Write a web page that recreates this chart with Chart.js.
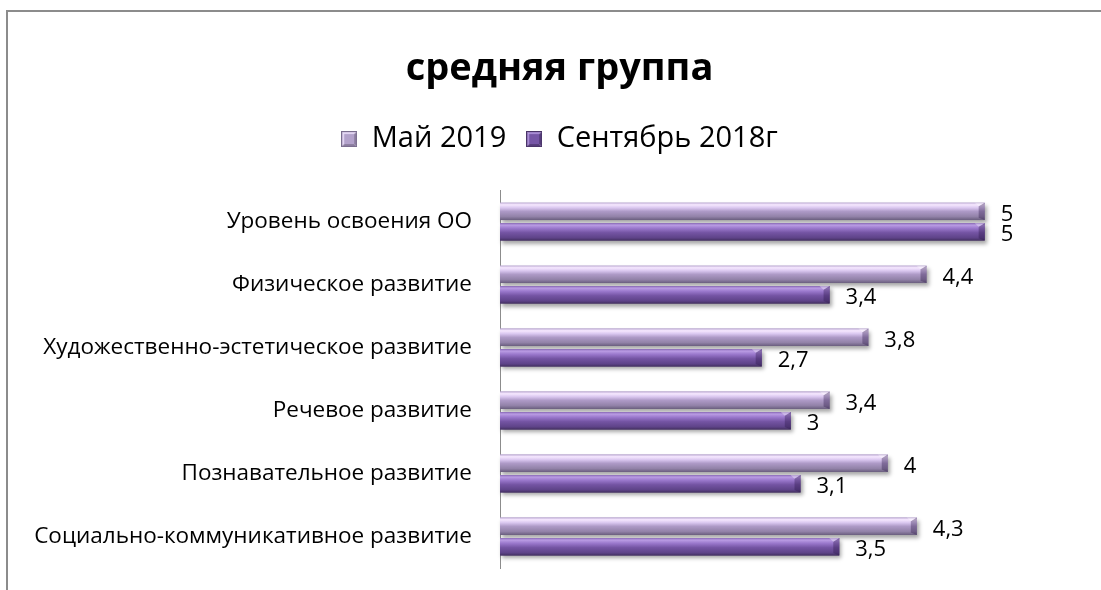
<!DOCTYPE html>
<html lang="ru">
<head>
<meta charset="UTF-8">
<title>средняя группа</title>
<script src="https://cdn.jsdelivr.net/npm/chart.js"></script>
<style>
  body { margin: 0; background: #fff; overflow: hidden; }
  #frame { position: absolute; left: 6px; top: 10px; width: 1200px; height: 700px;
           border-left: 2px solid #8c8c8c; border-top: 2px solid #8c8c8c; }
  #chart { position: absolute; left: 0; top: 0; }
</style>
</head>
<body>
<div id="frame"></div>
<canvas id="chart" width="1101" height="590"></canvas>
<script>
const categories = [
  'Уровень освоения ОО',
  'Физическое развитие',
  'Художественно-эстетическое развитие',
  'Речевое развитие',
  'Познавательное развитие',
  'Социально-коммуникативное развитие'
];
const may2019 = [5, 4.4, 3.8, 3.4, 4, 4.3];
const sep2018 = [5, 3.4, 2.7, 3, 3.1, 3.5];

const FONT = "'Open Sans', 'DejaVu Sans', sans-serif";

const mayStops = [[0, '#c0aed6'], [0.12, '#f6e8ff'], [0.3, '#d9c6ef'], [0.5, '#ae9ac7'], [0.8, '#9282a8'], [1, '#6a5e7e']];
const sepStops = [[0, '#8f6fbd'], [0.12, '#b99be3'], [0.3, '#9a78cc'], [0.55, '#7454a3'], [0.85, '#5e4388'], [1, '#433060']];

// small bevelled square for the legend
function makeBox(light, mid, dark, edge) {
  const c = document.createElement('canvas');
  c.width = 16; c.height = 16;
  const g = c.getContext('2d');
  const tri = (pts, col) => {
    g.fillStyle = col;
    g.beginPath();
    g.moveTo(pts[0], pts[1]);
    for (let k = 2; k < pts.length; k += 2) g.lineTo(pts[k], pts[k + 1]);
    g.closePath();
    g.fill();
  };
  tri([0, 0, 16, 0, 8, 8], light);
  tri([0, 0, 0, 16, 8, 8], light);
  tri([16, 0, 16, 16, 8, 8], dark);
  tri([0, 16, 16, 16, 8, 8], dark);
  g.fillStyle = mid;
  g.fillRect(3, 3, 10, 10);
  g.strokeStyle = edge;
  g.strokeRect(0.5, 0.5, 15, 15);
  return c;
}

// bevelled bars with soft shadow, drawn over the library's bar rects
const bevelBars = {
  id: 'bevelBars',
  afterDatasetsDraw(chart) {
    const ctx = chart.ctx;
    chart.data.datasets.forEach((ds, i) => {
      const meta = chart.getDatasetMeta(i);
      const stops = i === 0 ? mayStops : sepStops;
      meta.data.forEach(el => {
        const p = el.getProps(['x', 'y', 'base', 'height'], true);
        const top = p.y - p.height / 2, bottom = p.y + p.height / 2;
        const left = p.base, right = p.x;
        const g = ctx.createLinearGradient(0, top, 0, bottom);
        stops.forEach(s => g.addColorStop(s[0], s[1]));
        ctx.save();
        ctx.shadowColor = 'rgba(0,0,0,0.35)';
        ctx.shadowBlur = 4;
        ctx.shadowOffsetX = 2;
        ctx.shadowOffsetY = 3;
        ctx.fillStyle = g;
        ctx.fillRect(left, top, right - left, bottom - top);
        ctx.restore();
        // right end bevel
        const b = 6;
        ctx.save();
        ctx.fillStyle = 'rgba(40,20,70,0.35)';
        ctx.beginPath();
        ctx.moveTo(right - b, top + b * 0.6);
        ctx.lineTo(right, top);
        ctx.lineTo(right, bottom);
        ctx.lineTo(right - b, bottom - b * 0.4);
        ctx.closePath();
        ctx.fill();
        ctx.fillStyle = 'rgba(255,255,255,0.35)';
        ctx.beginPath();
        ctx.moveTo(right - b, top + b * 0.6);
        ctx.lineTo(right, top);
        ctx.lineTo(right - b - 4, top);
        ctx.closePath();
        ctx.fill();
        ctx.restore();
      });
    });
  }
};

// value labels at the end of each bar
const valueLabels = {
  id: 'valueLabels',
  afterDraw(chart) {
    const ctx = chart.ctx;
    ctx.save();
    ctx.font = '22px ' + FONT;
    ctx.fillStyle = '#000';
    ctx.textAlign = 'left';
    ctx.textBaseline = 'middle';
    chart.data.datasets.forEach((ds, i) => {
      chart.getDatasetMeta(i).data.forEach((el, j) => {
        const p = el.getProps(['x', 'y'], true);
        ctx.fillText(String(ds.data[j]).replace('.', ','), p.x + 16, p.y + 3);
      });
    });
    ctx.restore();
  }
};

new Chart(document.getElementById('chart'), {
  type: 'bar',
  data: {
    labels: categories,
    datasets: [
      { label: 'Май 2019', data: may2019, backgroundColor: '#ad9bc6', borderWidth: 0,
        pointStyle: makeBox('#e2d4f2', '#b3a2cb', '#8a7c9e', '#7a6d8e') },
      { label: 'Сентябрь 2018г', data: sep2018, backgroundColor: '#6f4f9c', borderWidth: 0,
        pointStyle: makeBox('#a88bd4', '#7656a6', '#553c7a', '#4a3468') }
    ]
  },
  options: {
    indexAxis: 'y',
    responsive: false,
    animation: false,
    categoryPercentage: 0.65,
    barPercentage: 0.85,
    layout: { padding: { left: 18, right: 0, top: 0, bottom: 22 } },
    plugins: {
      title: {
        display: true,
        text: 'средняя группа',
        color: '#000',
        font: { family: FONT, size: 38, weight: 'bold' },
        padding: { top: 46, bottom: 13 }
      },
      legend: {
        display: true,
        labels: {
          color: '#000',
          font: { family: FONT, size: 29 },
          usePointStyle: true,
          pointStyleWidth: 16,
          boxWidth: 16,
          boxHeight: 16,
          padding: 20
        }
      },
      tooltip: { enabled: false }
    },
    scales: {
      x: {
        position: 'top',
        min: 0,
        max: 6.2,
        grid: { display: false },
        border: { display: false },
        ticks: { display: false },
        afterFit(scale) { scale.height = 26.5; }
      },
      y: {
        grid: { display: false },
        border: { display: true, color: '#8c8c8c', width: 1 },
        ticks: { color: '#000', font: { family: FONT, size: 22.5 }, padding: 20 },
        afterFit(scale) {
          scale.width = 482;
          scale.paddingTop = 0;
          scale.paddingBottom = 0;
        }
      }
    }
  },
  plugins: [bevelBars, valueLabels]
});
</script>
</body>
</html>
